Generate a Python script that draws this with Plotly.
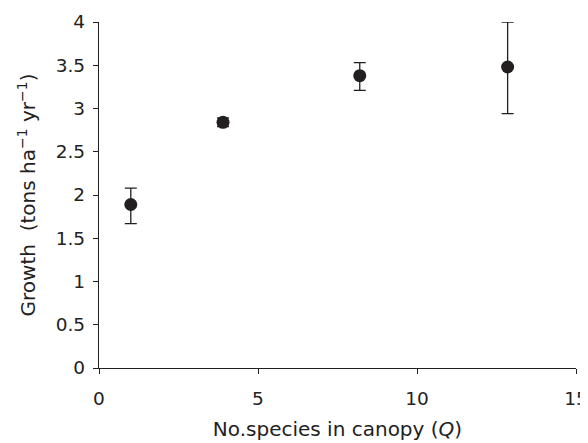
import plotly.graph_objects as go

species = [1.0, 3.9, 8.2, 12.85]
growth = [1.89, 2.84, 3.38, 3.48]
err_plus = [0.19, 0.05, 0.15, 0.52]
err_minus = [0.22, 0.05, 0.17, 0.54]

x_ticks = [0, 5, 10, 15]
y_ticks = [0, 0.5, 1, 1.5, 2, 2.5, 3, 3.5, 4]
y_ticklabels = ["0", "0.5", "1", "1.5", "2", "2.5", "3", "3.5", "4"]

ink = "#231f20"
fig = go.Figure(go.Scatter(
    x=species, y=growth, mode="markers",
    marker=dict(size=13, color=ink),
    error_y=dict(type="data", symmetric=False, array=err_plus, arrayminus=err_minus,
                 color=ink, thickness=1.3, width=6),
    showlegend=False,
))

font = dict(family="DejaVu Sans, sans-serif", size=18.5, color="#222")
fig.update_layout(
    width=580, height=435,
    margin=dict(l=91, r=12, t=14, b=75),
    plot_bgcolor="white", paper_bgcolor="white",
    font=font,
    xaxis=dict(range=[0, 15], tickvals=x_ticks, showline=True, linecolor=ink, linewidth=1.3,
               ticks="outside", ticklen=5, tickcolor=ink, showgrid=False, zeroline=False,
               automargin=False, tickfont=dict(size=18.5), ticklabelstandoff=9,
               title=dict(text="No.species in canopy (<i>Q</i>)", standoff=13, font=dict(size=20))),
    yaxis=dict(range=[0, 4], tickvals=y_ticks, ticktext=y_ticklabels, showline=True, linecolor=ink,
               linewidth=1.3, ticks="outside", ticklen=5, tickcolor=ink, showgrid=False, zeroline=False,
               automargin=False, tickfont=dict(size=18.5), ticklabelstandoff=4,
               title=dict(text="Growth  (tons ha<sup>−1</sup> yr<sup>−1</sup>)", standoff=14, font=dict(size=20))),
)
fig.write_html("out.html")
